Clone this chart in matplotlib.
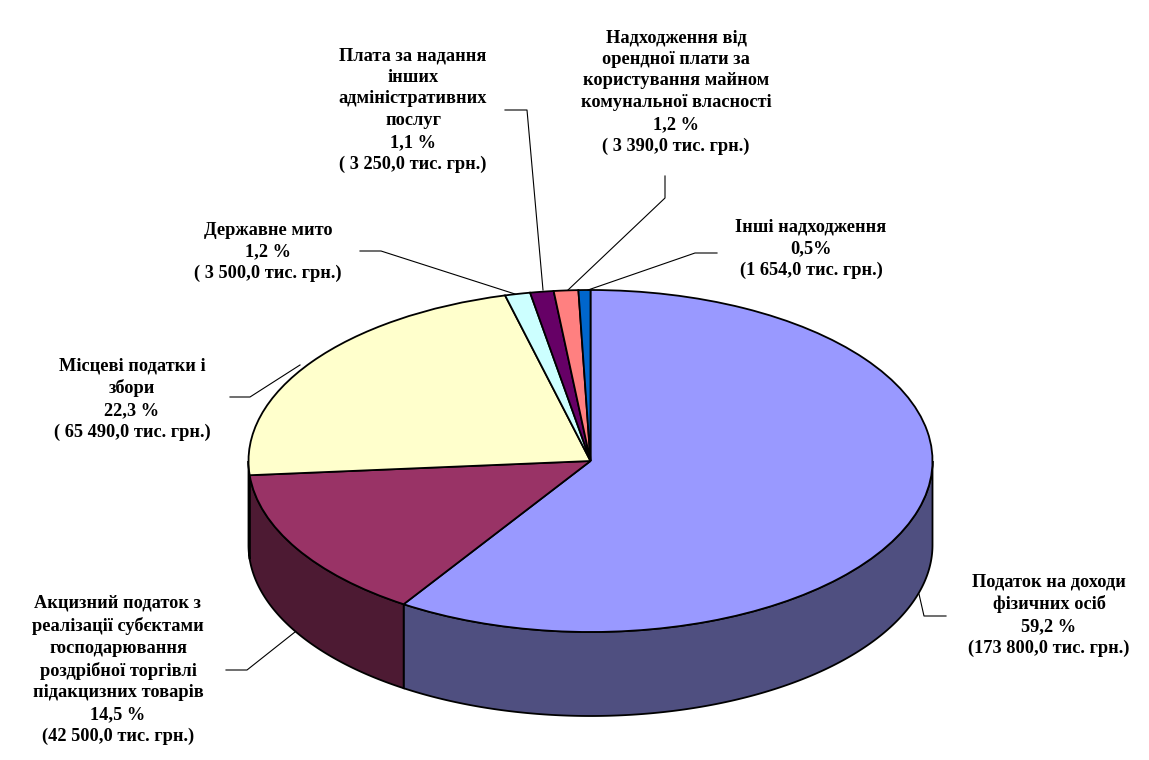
import matplotlib
import matplotlib.pyplot as plt
import numpy as np

matplotlib.use('Agg')

W, H = 1149, 760

# values in thousand UAH, clockwise from the top
values = [173800.0, 42500.0, 65490.0, 3500.0, 3250.0, 3390.0, 1654.0]
colors = ['#9999FF', '#993366', '#FFFFCC', '#CCFFFF', '#660066', '#FF8080', '#0066CC']
side_colors = ['#4F4F80', '#4D1A33', '#808066', '#668080', '#330033', '#804040', '#003366']

labels = [
    "Податок на доходи\nфізичних осіб\n59,2 %\n(173 800,0 тис. грн.)",
    "Акцизний податок з\nреалізації субєктами\nгосподарювання\nроздрібної торгівлі\nпідакцизних товарів\n14,5 %\n(42 500,0 тис. грн.)",
    "Місцеві податки і\nзбори\n22,3 %\n( 65 490,0 тис. грн.)",
    "Державне мито\n1,2 %\n( 3 500,0 тис. грн.)",
    "Плата за надання\nінших\nадміністративних\nпослуг\n1,1 %\n( 3 250,0 тис. грн.)",
    "Надходження від\nорендної плати за\nкористування майном\nкомунальної власності\n1,2 %\n( 3 390,0 тис. грн.)",
    "Інші надходження\n0,5%\n(1 654,0 тис. грн.)",
]
label_pos = [(1049, 615), (118, 670), (132, 399), (268, 252), (413, 110), (676, 92), (811, 249)]
leaders = [
    [(919, 594), (924, 616), (946, 616)],
    [(295, 632), (247, 670), (226, 670)],
    [(300, 365), (250, 397), (230, 397)],
    [(360, 251), (381, 251), (515, 294)],
    [(505, 110), (527, 110), (543, 290)],
    [(665, 176), (665, 198), (568, 290)],
    [(717, 253), (695, 253), (588, 290)],
]

fig = plt.figure(figsize=(W / 100, H / 100), dpi=100)

# pie axes stretched so the unit circle becomes the ellipse of the top face
cx, cy, rx, ry = 590.5, 461, 342, 171
depth = 84 / ry
ax = fig.add_axes([(cx - rx) / W, 1 - (cy + ry) / H, 2 * rx / W, 2 * ry / H])

# side wall, only the front half is visible
frac = np.array(values) / sum(values)
edges = 90 - 360 * np.concatenate([[0], np.cumsum(frac)])
for i in range(len(values)):
    a0, a1 = min(edges[i], 0), max(edges[i + 1], -180)
    if a0 <= a1:
        continue
    t = np.radians(np.linspace(a0, a1, 200))
    xs = np.concatenate([np.cos(t), np.cos(t[::-1])])
    ys = np.concatenate([np.sin(t), np.sin(t[::-1]) - depth])
    ax.fill(xs, ys, fc=side_colors[i], ec='k', lw=1.3, clip_on=False, zorder=1)

wedges, _ = ax.pie(values, colors=colors, startangle=90, counterclock=False,
                   wedgeprops=dict(edgecolor='k', linewidth=1.3, zorder=2))
for w in wedges:
    w.set_clip_on(False)
ax.set_aspect('auto')
ax.set_xlim(-1, 1)
ax.set_ylim(-1, 1)

# overlay in pixel coordinates for leaders and labels
top = fig.add_axes([0, 0, 1, 1])
top.set_xlim(0, W)
top.set_ylim(H, 0)
top.axis('off')
top.patch.set_alpha(0)

for pts in leaders:
    p = np.array(pts)
    top.plot(p[:, 0], p[:, 1], color='k', lw=0.8)
for txt, (x, y) in zip(labels, label_pos):
    top.text(x, y, txt, ha='center', va='center', family='Liberation Serif',
             weight='bold', fontsize=13.2, linespacing=1.36, color='k')

fig.savefig('out.png', dpi=100)
